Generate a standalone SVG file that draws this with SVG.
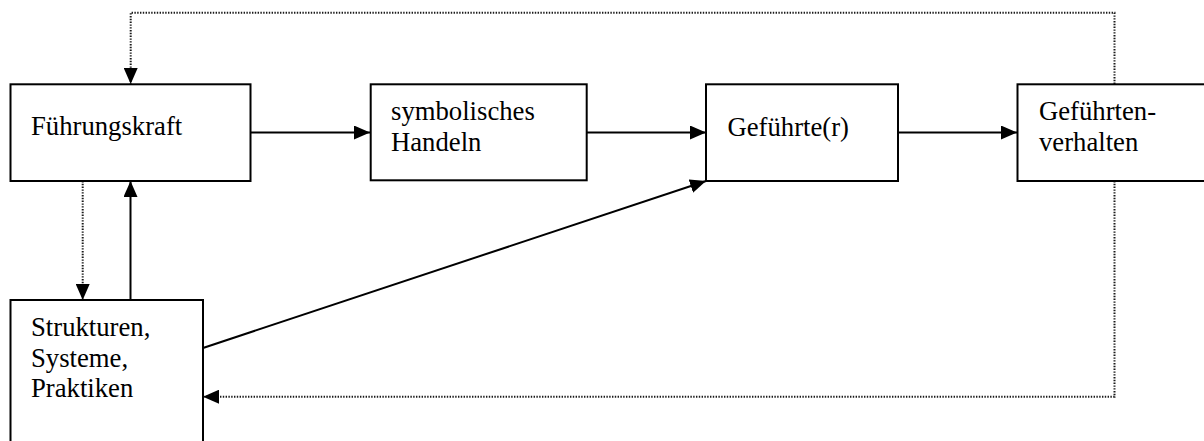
<svg xmlns="http://www.w3.org/2000/svg" width="1204" height="441" viewBox="0 0 1204 441">
<style>
.box{fill:#fff;stroke:#000;stroke-width:2}
.t{font-family:"Liberation Serif","Times New Roman",serif;font-size:26.7px;fill:#000}
.s{fill:none;stroke:#000;stroke-width:2}
.d{fill:none;stroke:#1a1a1a;stroke-width:2;stroke-dasharray:1.4 1.4}
</style>
<defs>
<marker id="ah" viewBox="0 0 16 14" refX="16" refY="7" markerWidth="16" markerHeight="14" markerUnits="userSpaceOnUse" orient="auto">
<path d="M0,0 L16,7 L0,14 Z" fill="#000"/>
</marker>
</defs>
<rect width="1204" height="441" fill="#fff"/>
<g id="connectors">
<line class="s" x1="251" y1="132.5" x2="370" y2="132.5" marker-end="url(#ah)"/>
<line class="s" x1="587" y1="132.5" x2="706" y2="132.5" marker-end="url(#ah)"/>
<line class="s" x1="898" y1="132.5" x2="1017" y2="132.5" marker-end="url(#ah)"/>
<line class="s" x1="130.5" y1="300" x2="130.5" y2="181" marker-end="url(#ah)"/>
<line class="s" x1="203" y1="348" x2="706" y2="181" marker-end="url(#ah)"/>
<line class="d" x1="82.7" y1="181" x2="82.7" y2="300" marker-end="url(#ah)"/>
<polyline class="d" points="1114.5,84 1114.5,12.7 130.7,12.7 130.7,84" marker-end="url(#ah)"/>
<polyline class="d" points="1114.5,181 1114.5,396.7 203,396.7" marker-end="url(#ah)"/>
</g>
<g id="node-fuehrungskraft">
<rect class="box" x="10.5" y="84.3" width="240" height="96.7"/>
<text class="t" x="31" y="135">Führungskraft</text>
</g>
<g id="node-symbolisches-handeln">
<rect class="box" x="370.7" y="84.3" width="216" height="96"/>
<text class="t" x="391" y="120">symbolisches</text>
<text class="t" x="391" y="151">Handeln</text>
</g>
<g id="node-gefuehrte">
<rect class="box" x="706" y="84.3" width="192" height="96.7"/>
<text class="t" x="727.5" y="136">Geführte(r)</text>
</g>
<g id="node-gefuehrtenverhalten">
<rect class="box" x="1017.5" y="84.3" width="200" height="96.7"/>
<text class="t" x="1039" y="120">Geführten-</text>
<text class="t" x="1039" y="150.5">verhalten</text>
</g>
<g id="node-strukturen">
<rect class="box" x="10.5" y="300" width="192.5" height="160"/>
<text class="t" x="31" y="336">Strukturen,</text>
<text class="t" x="31" y="366.5">Systeme,</text>
<text class="t" x="31" y="396.5">Praktiken</text>
</g>
</svg>
